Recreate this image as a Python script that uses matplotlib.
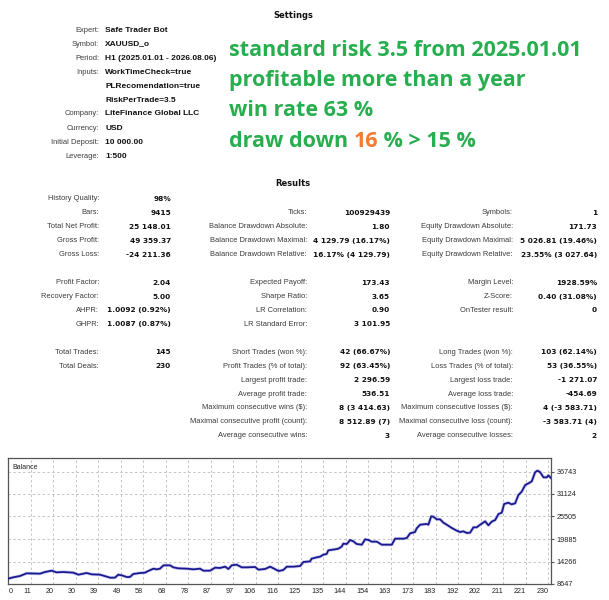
import matplotlib
matplotlib.use("Agg")
import matplotlib.pyplot as plt

# ---------------- data ----------------
settings_labels = ["Expert:", "Symbol:", "Period:", "Inputs:", "", "", "Company:",
                   "Currency:", "Initial Deposit:", "Leverage:"]
settings_values = ["Safe Trader Bot", "XAUUSD_o", "H1 (2025.01.01 - 2026.08.06)",
                   "WorkTimeCheck=true", "PLRecomendation=true", "RiskPerTrade=3.5",
                   "LiteFinance Global LLC", "USD", "10 000.00", "1:500"]

headline_lines = ["standard risk 3.5 from 2025.01.01",
                  "profitable more than a year",
                  "win rate 63 %"]
headline_dd = ["draw down ", "16", " % > 15 %"]

# results rows: (row index, col1 label, col1 value, col2 label, col2 value, col3 label, col3 value)
results_rows = [
    (0, "History Quality:", "98%", "", "", "", ""),
    (1, "Bars:", "9415", "Ticks:", "100929439", "Symbols:", "1"),
    (2, "Total Net Profit:", "25 148.01", "Balance Drawdown Absolute:", "1.80",
     "Equity Drawdown Absolute:", "171.73"),
    (3, "Gross Profit:", "49 359.37", "Balance Drawdown Maximal:", "4 129.79 (16.17%)",
     "Equity Drawdown Maximal:", "5 026.81 (19.46%)"),
    (4, "Gross Loss:", "-24 211.36", "Balance Drawdown Relative:", "16.17% (4 129.79)",
     "Equity Drawdown Relative:", "23.55% (3 027.64)"),
    (6, "Profit Factor:", "2.04", "Expected Payoff:", "173.43", "Margin Level:", "1928.59%"),
    (7, "Recovery Factor:", "5.00", "Sharpe Ratio:", "3.65", "Z-Score:", "0.40 (31.08%)"),
    (8, "AHPR:", "1.0092 (0.92%)", "LR Correlation:", "0.90", "OnTester result:", "0"),
    (9, "GHPR:", "1.0087 (0.87%)", "LR Standard Error:", "3 101.95", "", ""),
    (11, "Total Trades:", "145", "Short Trades (won %):", "42 (66.67%)",
     "Long Trades (won %):", "103 (62.14%)"),
    (12, "Total Deals:", "230", "Profit Trades (% of total):", "92 (63.45%)",
     "Loss Trades (% of total):", "53 (36.55%)"),
    (13, "", "", "Largest profit trade:", "2 296.59", "Largest loss trade:", "-1 271.07"),
    (14, "", "", "Average profit trade:", "536.51", "Average loss trade:", "-454.69"),
    (15, "", "", "Maximum consecutive wins ($):", "8 (3 414.63)",
     "Maximum consecutive losses ($):", "4 (-3 583.71)"),
    (16, "", "", "Maximal consecutive profit (count):", "8 512.89 (7)",
     "Maximal consecutive loss (count):", "-3 583.71 (4)"),
    (17, "", "", "Average consecutive wins:", "3", "Average consecutive losses:", "2"),
]

trade_index = [0, 2.1, 5.0, 7.8, 13.5, 15.7, 18.5, 20.6, 23.5, 27.7,
               29.9, 33.4, 35.6, 39.1, 42.0, 43.4, 45.5, 46.9, 48.4, 50.5,
               51.9, 53.3, 56.2, 58.3, 59.7, 61.9, 63.3, 64.7, 66.2, 69.0,
               70.4, 72.5, 76.1, 79.0, 81.8, 83.2, 86.1, 88.2, 90.3, 92.5,
               93.9, 95.3, 97.4, 99.6, 101.7, 105.3, 106.7, 109.5, 111.7, 113.1,
               115.3, 117.3, 118.8, 121.6, 124.5, 125.9, 128.7,
               129.4, 131.6, 133.0, 134.4, 135.8, 136.5, 139.4, 140.8, 142.2, 142.9,
               144.4, 145.8, 147.2, 148.6, 150.8, 152.2, 153.6, 155.0, 157.2, 159.3,
               163.6, 165.0, 168.6, 170.0, 171.4, 173.5, 174.2, 175.7, 177.1, 178.5,
               179.2, 180.4, 181.3, 182.8, 184.2, 185.6, 187.0, 189.2, 191.3, 192.7,
               194.1, 195.6, 197.0, 198.4, 199.8, 201.3, 203.4, 204.8, 206.2, 207.7,
               209.1, 210.5, 211.5, 213.3, 214.7, 216.2, 217.6, 219.0, 220.5, 221.9,
               223.3, 224.7, 225.7, 226.8, 228.3, 229.7, 230.4, 231.4]
balance = [10000, 10313, 10645, 11311, 11227, 11644, 11976, 11561, 11644, 11477,
           10977, 11394, 11062, 10977, 10478, 10228, 10228, 10977, 10811, 10395,
           10395, 11144, 11394, 11477, 11894, 12476, 12310, 12476, 13309, 13309,
           12809, 12560, 12476, 12310, 12476, 11976, 11976, 12725, 12643, 12975,
           12393, 13309, 13475, 12809, 12809, 12893, 12226, 12393, 12975, 12560,
           11894, 12143, 12975, 12975, 13142, 14141, 14300,
           14973, 15307, 15473, 15972, 16139, 17056, 17305, 17471, 17970, 18719,
           18637, 19636, 19303, 18637, 18469, 19803, 19636, 19219, 19219, 18469,
           18469, 19968, 19968, 20135, 21301, 21633, 22550, 23464, 23548, 23631,
           23464, 25547, 25462, 24797, 24797, 23963, 23464, 22632, 21966, 21633,
           21800, 21383, 21466, 22799, 22799, 23464, 24298, 23299, 24213, 24630,
           26129, 26461, 28626, 28958, 28543, 28793, 30874, 31706, 33371, 33788,
           34287, 36535, 36951, 36618, 35286, 35286, 35786, 35148]

x_tick_labels = ["0", "11", "20", "30", "39", "49", "58", "68", "78", "87", "97", "106",
                 "116", "125", "135", "144", "154", "163", "173", "183", "192", "202",
                 "211", "221", "230"]
y_tick_values = [8647, 14266, 19885, 25505, 31124, 36743]

# ---------------- figure ----------------
W, H = 609, 600
fig = plt.figure(figsize=(W / 100, H / 100), dpi=100)
fig.patch.set_facecolor("white")

def T(x, y, s, ha="left", va="center", **kw):
    return fig.text(x / W, 1 - y / H, s, ha=ha, va=va, **kw)

LAB = dict(family="Liberation Sans", fontsize=5.4, color="#3a3a3a")
VAL_TXT = dict(family="Liberation Sans", fontsize=6.0, fontweight="bold", color="#111111")
VAL_NUM = dict(family="DejaVu Sans", fontsize=5.3, fontweight="bold", color="#111111")
HEAD = dict(family="DejaVu Sans", fontsize=6.0, fontweight="bold", color="#111111")

# Settings
T(293, 15, "Settings", ha="center", **HEAD)
for i, (lab, val) in enumerate(zip(settings_labels, settings_values)):
    y = 30 + 14 * i
    if lab:
        T(99, y, lab, ha="right", **LAB)
    T(105, y, val, ha="left", **VAL_TXT)

# Headline text
GREEN = "#27ae4f"
ORANGE = "#f47b30"
HFONT = dict(family="Open Sans", fontsize=15.5, fontweight="bold")
base_y = [55.5, 86, 116.5]
for s, by in zip(headline_lines, base_y):
    T(229, by, s, va="baseline", color=GREEN, **HFONT)

# last line with the orange number
fig.canvas.draw()
renderer = fig.canvas.get_renderer()
x = 229
probe2 = T(0, -100, "|", color="white", **HFONT)
pb2 = probe2.get_window_extent(renderer=renderer)
probe2.remove()
for part, col in zip(headline_dd, [GREEN, ORANGE, GREEN]):
    T(x, 147, part, va="baseline", color=col, **HFONT)
    probe = T(0, -100, part.replace(" ", "\u00a0") + "|", color="white", **HFONT)
    pb = probe.get_window_extent(renderer=renderer)
    probe.remove()
    x += (pb.width - pb2.width)

# Results
T(293, 184, "Results", ha="center", **HEAD)
for row in results_rows:
    r, l1, v1, l2, v2, l3, v3 = row
    y = 199 + 13.93 * r
    if l1:
        T(99, y, l1, ha="right", **LAB)
        T(171, y, v1, ha="right", **VAL_NUM)
    if l2:
        T(307, y, l2, ha="right", **LAB)
        T(390, y, v2, ha="right", **VAL_NUM)
    if l3:
        T(513, y, l3, ha="right", **LAB)
        T(597, y, v3, ha="right", **VAL_NUM)

# ---------------- balance chart ----------------
left, right, top, bottom = 8.3, 551, 458.3, 584
ax = fig.add_axes([left / W, 1 - bottom / H, (right - left) / W, (bottom - top) / H])
n = min(len(trade_index), len(balance))
ax.plot(trade_index[:n], balance[:n], color="#8a8ae6", lw=2.4, alpha=0.4,
        solid_joinstyle="round", zorder=2)
ax.plot(trade_index[:n], balance[:n], color="#1a1a8e", lw=1.3,
        solid_joinstyle="round", zorder=3)

x_max = 231.5
x_step = 22.5 * x_max / (right - left)
ax.set_xlim(0, x_max)
ax.set_xticks([k * x_step for k in range(len(x_tick_labels))])
ax.set_xticklabels(x_tick_labels)
for k, lbl in enumerate(ax.get_xticklabels()):
    lbl.set_horizontalalignment("left" if k == 0 else "right")
    lbl.set_family("Liberation Sans")
    lbl.set_fontsize(5.2)
    lbl.set_color("#222222")

y_min = y_tick_values[0]
y_step = (y_tick_values[-1] - y_tick_values[0]) / (len(y_tick_values) - 1)
ax.set_ylim(y_min, y_min + (bottom - top) / 22.5 * y_step)
ax.set_yticks(y_tick_values)
ax.set_yticklabels([str(v) for v in y_tick_values])
ax.yaxis.tick_right()
for lbl in ax.get_yticklabels():
    lbl.set_family("Liberation Sans")
    lbl.set_fontsize(5.2)
    lbl.set_color("#222222")

ax.tick_params(axis="x", length=0, pad=3)
ax.tick_params(axis="y", length=2.5, pad=1.5, color="#555555", width=0.8)
ax.grid(True, color="#c4c4c4", linestyle=(0, (2.5, 2.5)), linewidth=0.7)
ax.set_axisbelow(True)
for sp in ax.spines.values():
    sp.set_color("#555555")
    sp.set_linewidth(0.9)
ax.text(0.008, 0.955, "Balance", transform=ax.transAxes, ha="left", va="top",
        family="Liberation Sans", fontsize=5.0, color="#222222")

fig.savefig("out.png", dpi=100, facecolor="white")
